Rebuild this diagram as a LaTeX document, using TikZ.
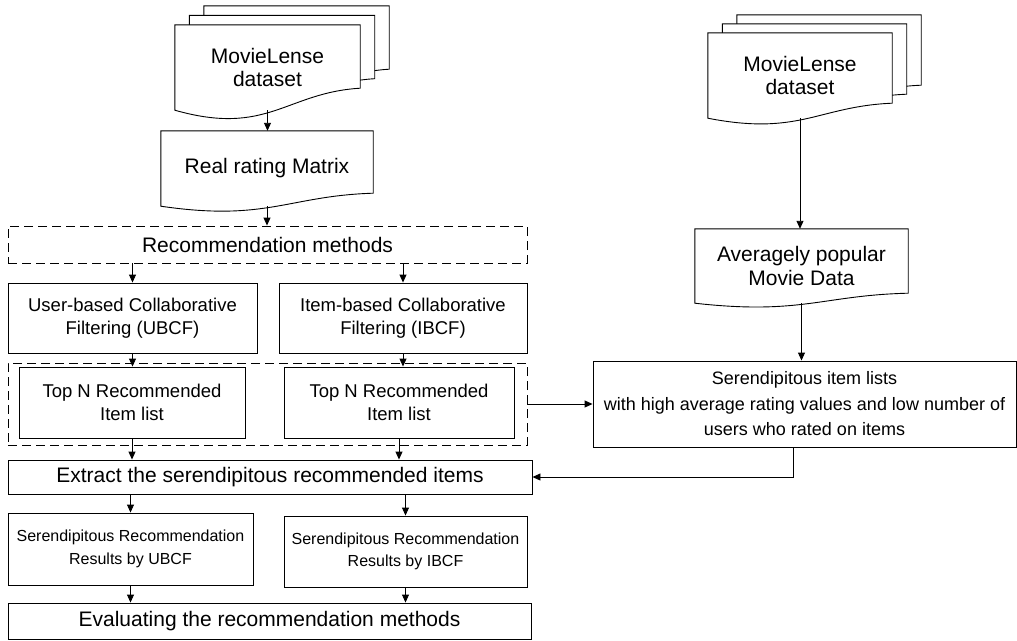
\documentclass[tikz,border=0pt]{standalone}
\usepackage{fontspec}
\setmainfont{Liberation Sans}
\usetikzlibrary{arrows.meta,calc,backgrounds}
\def\bigf{\fontsize{21}{23.5}\selectfont}
\def\midf{\fontsize{18.5}{22.5}\selectfont}
\def\serf{\fontsize{18}{25.5}\selectfont}
\def\smlf{\fontsize{16}{22.5}\selectfont}
% outline of a document sheet round node #1, wave height #2
\def\docpath#1#2{(#1.north west) -- (#1.north east) -- ($(#1.south east)+(0,-#2)$)
  .. controls ($(#1.south east)!0.4!(#1.south west)+(0,-0.8*#2)$)
  and ($(#1.south east)!0.5!(#1.south west)+(0,1.2*#2)$) .. (#1.south west) -- cycle}

\begin{document}
\begin{tikzpicture}[x=1pt,y=-1pt,
    box/.style={draw, line width=0.9pt, inner sep=0pt, align=center},
    grpbox/.style={draw, line width=0.9pt, dash pattern=on 9pt off 5pt, inner sep=0pt, align=center},
    docnode/.style={inner sep=0pt, align=center, font=\bigf},
    docline/.style={draw, fill=white, line width=0.9pt},
    arr/.style={line width=0.9pt, -{Triangle[length=8pt,width=7pt]}}]
  \useasboundingbox (0,0) rectangle (1017,640);

  % left column
  \node[docnode, minimum width=185pt, minimum height=85pt] (dsA) at (267.5,67.5) {MovieLense\\dataset};
  \foreach \k in {1,2}
    \node[docnode, minimum width=185pt, minimum height=85pt] (dsA\k) at ([shift={(14.5*\k,-9.5*\k)}]dsA.center) {};
  \node[docnode, minimum width=212pt, minimum height=75pt] (rrm) at (267,168.5) {Real rating Matrix};
  \node[grpbox, font=\bigf, minimum width=519pt, minimum height=37pt] (rec) at (267.5,244.5) {Recommendation methods};
  \node[box, font=\midf, minimum width=249pt, minimum height=70pt] (ubcf) at (132.5,318) {User-based Collaborative\\Filtering (UBCF)};
  \node[box, font=\midf, minimum width=248pt, minimum height=70pt] (ibcf) at (403,318) {Item-based Collaborative\\Filtering (IBCF)};
  \node[grpbox, minimum width=519pt, minimum height=82pt] (grp) at (267.5,404) {};
  \node[box, font=\midf, minimum width=226pt, minimum height=71pt] (topU) at (132,402.5) {Top N Recommended\\Item list};
  \node[box, font=\midf, minimum width=230pt, minimum height=71pt] (topI) at (399,402.5) {Top N Recommended\\Item list};
  \node[box, font=\bigf, minimum width=524pt, minimum height=34pt] (ext) at (270,477) {Extract the serendipitous recommended items};
  \node[box, font=\smlf, minimum width=245pt, minimum height=72pt] (sru) at (130.5,549) {Serendipitous Recommendation\\Results by UBCF};
  \node[box, font=\smlf, minimum width=243pt, minimum height=71pt] (sri) at (405.5,551.5) {Serendipitous Recommendation\\Results by IBCF};
  \node[box, font=\bigf, minimum width=523pt, minimum height=36pt] (eval) at (269.5,621) {Evaluating the recommendation methods};

  % right column
  \node[docnode, minimum width=184pt, minimum height=85pt] (dsB) at (800,75.5) {MovieLense\\dataset};
  \foreach \k in {1,2}
    \node[docnode, minimum width=184pt, minimum height=85pt] (dsB\k) at ([shift={(14.5*\k,-9*\k)}]dsB.center) {};
  \node[docnode, minimum width=213pt, minimum height=74pt] (avg) at (801.5,266) {Averagely popular\\Movie Data};
  \node[box, font=\serf, minimum width=423pt, minimum height=86pt] (ser) at (804.5,404)
    {Serendipitous item lists\\with high average rating values and low number of\\users who rated on items};

  \begin{scope}[on background layer]
    \foreach \n/\h in {dsA2/22,dsA1/22,dsA/22,rrm/13,dsB2/15,dsB1/15,dsB/15,avg/10}
      \path[docline] \docpath{\n}{\h};
  \end{scope}

  % connectors
  \draw[arr] (dsA.south) -- (dsA.south |- rrm.north);
  \draw[arr] (rrm.south) -- (rrm.south |- rec.north);
  \foreach \b in {ubcf,ibcf}
    \draw[arr] (\b.north |- rec.south) -- (\b.north);
  \foreach \a/\b in {ubcf/topU,ibcf/topI}{
    \draw[arr] (\a.south) -- (\a.south |- \b.north);
    \draw[arr] (\b.south) -- (\b.south |- ext.north);
  }
  \foreach \b in {sru,sri}{
    \draw[arr] (\b.north |- ext.south) -- (\b.north);
    \draw[arr] (\b.south) -- (\b.south |- eval.north);
  }
  \draw[arr] (dsB.south) -- (dsB.south |- avg.north);
  \draw[arr] (avg.south) -- (avg.south |- ser.north);
  \draw[arr] (grp.east) -- (grp.east -| ser.west);
  \draw[arr] ([xshift=-11pt]ser.south) |- (ext.east);
\end{tikzpicture}
\end{document}
